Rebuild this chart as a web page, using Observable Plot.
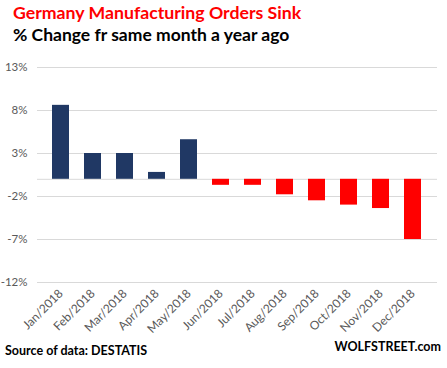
<!DOCTYPE html>
<html>
<head>
<meta charset="utf-8">
<script src="https://cdn.jsdelivr.net/npm/d3@7"></script>
<script src="https://cdn.jsdelivr.net/npm/@observablehq/plot@0.6"></script>
<style>
  html, body { margin: 0; padding: 0; background: #fff; }
  #wrap { position: relative; width: 447px; height: 368px; overflow: hidden; font-family: Lato, "Open Sans", sans-serif; }
  #chart { position: absolute; left: 0; top: 0; }
  .t { position: absolute; white-space: nowrap; font-weight: bold; }
  #title { left: 13px; top: 2px; font-size: 17.7px; color: #ff0000; }
  #subtitle { left: 13px; top: 24px; font-size: 17.5px; color: #000; }
  #source { left: 5px; top: 343px; font-size: 12.5px; color: #000; }
  #brand { right: 6px; top: 339px; font-size: 12.5px; color: #000; }
</style>
</head>
<body>
<div id="wrap">
  <div id="chart"></div>
  <div class="t" id="title">Germany Manufacturing Orders Sink</div>
  <div class="t" id="subtitle">% Change fr same month a year ago</div>
  <div class="t" id="source">Source of data: DESTATIS</div>
  <div class="t" id="brand">WOLFSTREET.com</div>
</div>
<script>
const months = ["Jan/2018","Feb/2018","Mar/2018","Apr/2018","May/2018","Jun/2018","Jul/2018","Aug/2018","Sep/2018","Oct/2018","Nov/2018","Dec/2018"];
const values = [8.6, 3.0, 3.0, 0.8, 4.6, -0.7, -0.7, -1.8, -2.5, -3.0, -3.4, -7.0];
const yTicks = [13, 8, 3, -2, -7, -12];

const data = months.map((m, i) => ({month: m, value: values[i]}));

const chart = Plot.plot({
  width: 447,
  height: 368,
  marginTop: 67,
  marginBottom: 86,
  marginLeft: 37,
  marginRight: 10,
  style: {fontFamily: "Lato, 'Open Sans', sans-serif", fontSize: "11.5px", color: "#595959", background: "transparent"},
  x: {domain: months, padding: 0.46, label: null},
  y: {domain: [-12, 13], label: null},
  marks: [
    Plot.gridY(yTicks, {stroke: "#d9d9d9", strokeOpacity: 1, strokeWidth: 1}),
    Plot.ruleY([0], {stroke: "#d9d9d9", strokeWidth: 1}),
    Plot.barY(data, {x: "month", y: "value", fill: d => d.value >= 0 ? "#203864" : "#ff0000"}),
    Plot.axisY(yTicks, {tickSize: 0, tickPadding: 10, tickFormat: d => d + "%", fill: "#595959", fontSize: 11.5, label: null}),
    Plot.axisX({tickSize: 0, tickPadding: 9, tickRotate: -45, fill: "#595959", fontSize: 12, label: null})
  ]
});
document.getElementById("chart").appendChild(chart);
</script>
</body>
</html>
